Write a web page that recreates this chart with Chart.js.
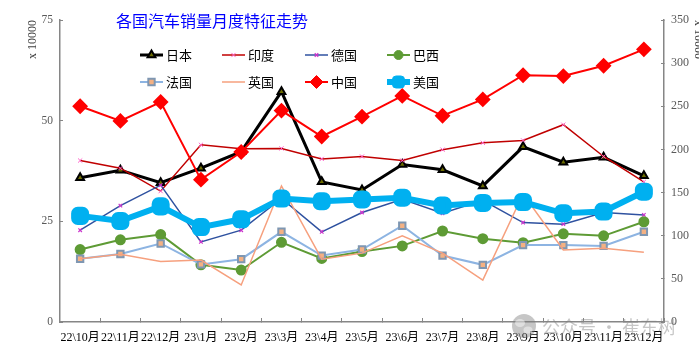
<!DOCTYPE html>
<html><head><meta charset="utf-8">
<script src="https://cdn.jsdelivr.net/npm/chart.js@4"></script>
<style>html,body{margin:0;padding:0;background:#fff;overflow:hidden}</style>
</head><body>
<canvas id="c" width="699" height="356"></canvas>
<script>
const categories = ['22\\10月','22\\11月','22\\12月','23\\1月','23\\2月','23\\3月','23\\4月','23\\5月','23\\6月','23\\7月','23\\8月','23\\9月','23\\10月','23\\11月','23\\12月'];
const japan   = [35.8,37.7,34.6,38.2,42.3,57.2,34.8,32.8,39.1,37.8,33.8,43.5,39.7,40.9,36.3];
const india   = [40.1,38.2,32.5,44.0,43.0,43.1,40.5,41.1,40.1,42.8,44.5,45.1,49.0,41.1,34.8];
const germany = [22.8,28.9,34.0,19.9,22.8,30.7,22.4,27.2,30.5,27.0,30.2,24.7,24.3,27.2,26.6];
const brazil  = [18.0,20.4,21.7,14.2,12.9,19.8,15.8,17.5,18.9,22.6,20.7,19.7,21.9,21.4,24.9];
const france  = [15.7,16.9,19.5,14.3,15.6,22.4,16.5,18.0,23.9,16.5,14.2,19.1,19.1,18.9,22.4];
const uk      = [15.7,16.8,15.0,15.4,9.2,33.8,15.6,17.1,21.4,17.1,10.4,31.8,17.9,18.3,17.3];
const china   = [250,233,255,165,197,245,215,238,262,239,258,286,285,297,316];
const usa     = [123,117,134,110,119,143,140,142,144,135,138,139,126,128,151];
const leftTicks  = [0,75,25];   // min, max, step
const rightTicks = [0,350,50];
const titleText = '各国汽车销量月度特征走势';
const axisTitle = 'x 10000';
const watermark = '公众号 · 崔东树';

const CJK = '"Noto Sans CJK SC", sans-serif';
const SERIF = '"Liberation Serif", "Noto Sans CJK SC", serif';

function ds(label, data, axis, o) {
  return Object.assign({label, data, yAxisID: axis, fill: false, tension: 0, pointHoverRadius: 0}, o);
}
const datasets = [
  ds('日本', japan, 'yL', {borderColor:'#000000', borderWidth:3, pointStyle:'triangle', pointRadius:4.5, pointBackgroundColor:'#6b6b00', pointBorderColor:'#000', pointBorderWidth:2, order:7}),
  ds('印度', india, 'yL', {borderColor:'#C00000', borderWidth:1.5, pointStyle:'crossRot', pointRadius:3, pointBorderColor:'#FF66CC', pointBorderWidth:1, order:6}),
  ds('德国', germany, 'yL', {borderColor:'#2F52A0', borderWidth:1.5, pointStyle:'crossRot', pointRadius:2.5, pointBorderColor:'#CC33CC', pointBorderWidth:1.2, order:5}),
  ds('巴西', brazil, 'yL', {borderColor:'#5E9B35', borderWidth:2, pointStyle:'circle', pointRadius:4.5, pointBackgroundColor:'#5E9B35', pointBorderColor:'#5E9B35', order:4}),
  ds('法国', france, 'yL', {borderColor:'#8DB4E2', borderWidth:2, pointStyle:'rect', pointRadius:4.5, pointBackgroundColor:'#F4B183', pointBorderColor:'#7F97B2', pointBorderWidth:2, order:3}),
  ds('英国', uk, 'yL', {borderColor:'#F6A07E', borderWidth:1.5, pointRadius:0, order:2}),
  ds('中国', china, 'yR', {borderColor:'#FF0000', borderWidth:2, pointStyle:'rectRot', pointRadius:6.5, pointBackgroundColor:'#FF0000', pointBorderColor:'#FF0000', order:1}),
  ds('美国', usa, 'yR', {borderColor:'#00B0F0', borderWidth:6, pointStyle:'rectRounded', pointRadius:7, pointBackgroundColor:'#00B0F0', pointBorderColor:'#00B0F0', order:0}),
];

const overlay = {
  id: 'overlay',
  afterDraw(chart) {
    const ctx = chart.ctx;
    ctx.save();
    // title
    ctx.fillStyle = '#0000FF';
    ctx.font = '16px ' + CJK;
    ctx.textAlign = 'center';
    ctx.textBaseline = 'middle';
    ctx.fillText(titleText, 212, 21);
    // legend
    const xs = [140, 222, 305, 387];
    const ys = [55, 82];
    chart.data.datasets.forEach((d, i) => {
      const x0 = xs[i % 4], y = ys[Math.floor(i / 4)];
      ctx.strokeStyle = d.borderColor;
      ctx.lineWidth = d.borderWidth;
      ctx.beginPath(); ctx.moveTo(x0, y); ctx.lineTo(x0 + 23, y); ctx.stroke();
      if (d.pointRadius > 0) {
        ctx.fillStyle = d.pointBackgroundColor || d.borderColor;
        ctx.strokeStyle = d.pointBorderColor || d.borderColor;
        ctx.lineWidth = d.pointBorderWidth || 1;
        Chart.helpers.drawPoint(ctx, {pointStyle: d.pointStyle, radius: d.pointRadius, rotation: 0, borderWidth: d.pointBorderWidth || 1}, x0 + 11.5, y);
      }
      ctx.fillStyle = '#000';
      ctx.font = '13px ' + CJK;
      ctx.textAlign = 'left';
      ctx.textBaseline = 'middle';
      ctx.fillText(d.label, x0 + 26, y);
    });
    // watermark
    ctx.globalAlpha = 0.45;
    ctx.fillStyle = '#808080';
    ctx.beginPath(); ctx.arc(524, 326, 12, 0, Math.PI * 2); ctx.fill();
    ctx.fillStyle = '#fff';
    ctx.beginPath(); ctx.ellipse(520, 323, 5, 4, 0, 0, Math.PI * 2); ctx.fill();
    ctx.beginPath(); ctx.ellipse(528, 330, 4.5, 3.5, 0, 0, Math.PI * 2); ctx.fill();
    ctx.fillStyle = '#808080';
    ctx.font = '18px ' + CJK;
    ctx.textAlign = 'left';
    ctx.fillText(watermark, 542, 327);
    ctx.restore();
  }
};

new Chart(document.getElementById('c'), {
  type: 'line',
  data: {labels: categories, datasets},
  options: {
    responsive: false,
    animation: false,
    layout: {padding: {top: 20, left: 0, right: 0, bottom: 0}},
    plugins: {legend: {display: false}, title: {display: false}, tooltip: {enabled: false}},
    scales: {
      x: {
        type: 'category', offset: true,
        grid: {display: true, drawOnChartArea: false, drawTicks: true, tickLength: -4, offset: true, color: '#868686'},
        border: {display: true, color: '#868686', width: 1.5},
        ticks: {autoSkip: false, maxRotation: 0, minRotation: 0, padding: 13, color: '#000', font: {family: SERIF, size: 12}},
        afterFit: s => { s.height = 34; }
      },
      yL: {
        position: 'left', min: leftTicks[0], max: leftTicks[1],
        ticks: {stepSize: leftTicks[2], padding: 10, color: '#595959', font: {family: SERIF, size: 11.5}},
        grid: {display: true, drawOnChartArea: false, drawTicks: true, tickLength: -3, color: '#868686'},
        border: {display: true, color: '#868686', width: 1.5},
        title: {display: true, text: axisTitle, align: 'end', color: '#404040', font: {family: SERIF, size: 12}, padding: {top: 26, bottom: 0}},
        afterFit: s => { s.width = 60; }
      },
      yR: {
        position: 'right', min: rightTicks[0], max: rightTicks[1],
        ticks: {stepSize: rightTicks[2], padding: 10, color: '#595959', font: {family: SERIF, size: 12}},
        grid: {display: true, drawOnChartArea: false, drawTicks: true, tickLength: -3, color: '#868686'},
        border: {display: true, color: '#868686', width: 1.5},
        title: {display: true, text: axisTitle, align: 'end', color: '#404040', font: {family: SERIF, size: 12}, padding: {top: -6, bottom: 0}},
        afterFit: s => { s.width = 35; }
      }
    }
  },
  plugins: [overlay]
});
</script>
</body></html>
